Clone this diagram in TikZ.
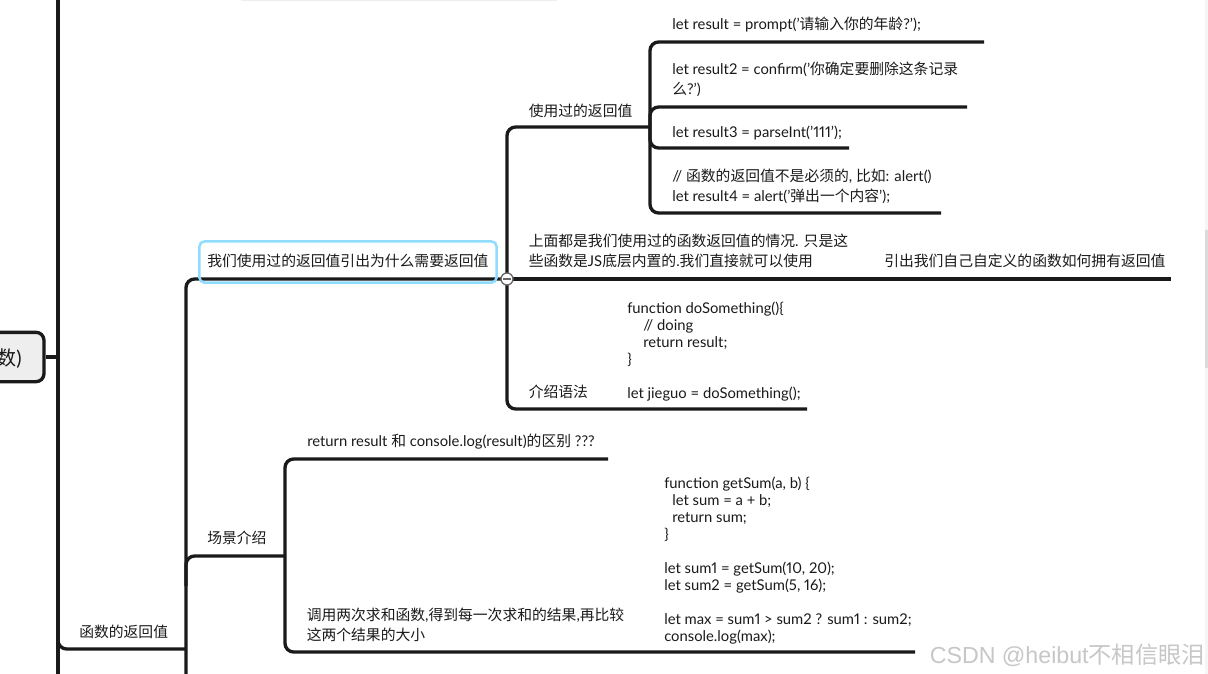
\documentclass[tikz,border=0pt]{standalone}
\usepackage{fontspec}
\setmainfont{Lato}[Numbers=Proportional]
\newfontfamily\cjk{Noto Sans CJK SC}
\newfontfamily\markfont{Liberation Sans}
\newcommand{\zh}[1]{{\cjk #1}}
\definecolor{inkline}{HTML}{1A1A1A}
\definecolor{selblue}{HTML}{90DCFF}
\definecolor{rootfill}{HTML}{EEEEEE}
\tikzset{
	branch/.style={draw=inkline, line width=2.5pt, rounded corners=6.5pt},
	topic/.style={anchor=west, inner sep=0pt, align=left, text=inkline, font=\fontsize{11.1}{15}\selectfont},
	code/.style={anchor=west, inner sep=0pt, align=left, text=inkline, font=\fontsize{11.1}{12.75}\selectfont},
}
\begin{document}
\begin{tikzpicture}[x=0.75pt, y=-0.75pt]
		\clip (0,0) rectangle (1208,674);
		\fill[white] (0,0) rectangle (1208,674);
		% scrollbar and the strip on top
		\fill[black!4] (1205,0) rectangle (1208,674);
		\fill[black!14] (1205,230) rectangle (1208,368);
		\fill[black!7] (241,0) rectangle (557,1);

		\coordinate (trunkTop) at (58,0);
		\coordinate (trunkBot) at (58,674);
		\coordinate (valueTop) at (186,279);
		\coordinate (valueBot) at (186,674);
		\coordinate (whyEnd) at (507,279);
		\coordinate (sceneEnd) at (285,556);
		\coordinate (usedEnd) at (650,127);

		\draw[branch] (trunkTop) -- (trunkBot);
		\draw[branch] (58,632) |- (valueBot |- 0,649);
		\draw[branch] (whyEnd) -| (valueBot);
		\draw[branch] (valueBot |- sceneEnd) ++(0,30) |- (sceneEnd);

		% selected topic
		\node[topic] (whyText) at (207,260.5) {\zh{我们使用过的返回值引出为什么需要返回值}};
		\node[draw=selblue, line width=1.9pt, rounded corners=4pt, minimum width=223pt, minimum height=31pt, inner sep=0pt] (whyBox) at (348,262) {};

		% used return values
		\draw[branch] (whyEnd) |- (usedEnd);
		\node[topic] (usedText) at (528.5,110.5) {\zh{使用过的返回值}};
		\coordinate (oneEnd) at (984,42);
		\coordinate (twoEnd) at (967,107);
		\coordinate (threeEnd) at (849,148);
		\coordinate (fourEnd) at (941,213);
		\draw[branch] (usedEnd) |- (oneEnd);
		\draw[branch] (usedEnd) |- (twoEnd);
		\draw[branch] (usedEnd) |- (threeEnd);
		\draw[branch] (usedEnd) |- (fourEnd);
		\node[topic] (oneText) at (672,25) {let result = prompt('\zh{请输入你的年龄}?');};
		\node[topic] (twoText) at (672,79.5) {let result2 = confirm('\zh{你确定要删除这条记录}\\\zh{么}?')};
		\node[topic] (threeText) at (672,133) {let result3 = parseInt('111');};
		\node[topic] (fourText) at (672,186.5) {// \zh{函数的返回值不是必须的}, \zh{比如}: alert()\\let result4 = alert('\zh{弹出一个内容}');};

		% the plain note
		\coordinate (noteEnd) at (1171,279);
		\draw[branch] (whyEnd) -- (noteEnd);
		\node[topic] (noteText) at (528.5,250.5) {\zh{上面都是我们使用过的函数返回值的情况}. \zh{只是这}\\\zh{些函数是}JS\zh{底层内置的}.\zh{我们直接就可以使用}};
		\node[topic] (ownText) at (884,260.5) {\zh{引出我们自己自定义的函数如何拥有返回值}};

		% syntax
		\coordinate (syntaxEnd) at (807,409);
		\draw[branch] (whyEnd) |- (syntaxEnd);
		\node[topic] (syntaxText) at (528.5,391.5) {\zh{介绍语法}};
		\node[code] (syntaxCode) at (627,352) {function doSomething()\{\\\hspace*{12pt}// doing\\\hspace*{12pt}return result;\\\}\\[12.75pt]let jieguo = doSomething();};

		\filldraw[fill=white, draw=black!60, line width=1pt] (whyEnd) circle (6);
		\node[fill=black!60, minimum width=6.5pt, minimum height=1.1pt, inner sep=0pt] (foldMark) at (whyEnd) {};

		% scenes
		\node[topic] (sceneText) at (207,537.5) {\zh{场景介绍}};
		\coordinate (diffEnd) at (608,459);
		\coordinate (sumEnd) at (915,652);
		\draw[branch] (sceneEnd) |- (diffEnd);
		\draw[branch] (sceneEnd) |- (sumEnd);
		\node[topic] (diffText) at (307,441.5) {return result \zh{和} console.log(result)\zh{的区别} ???};
		\node[topic] (sumText) at (306.5,624.5) {\zh{调用两次求和函数},\zh{得到每一次求和的结果},\zh{再比较}\\\zh{这两个结果的大小}};
		\node[code] (sumCode) at (664,560.5) {function getSum(a, b) \{\\\hspace*{6pt}let sum = a + b;\\\hspace*{6pt}return sum;\\\}\\[12.75pt]let sum1 = getSum(10, 20);\\let sum2 = getSum(5, 16);\\[12.75pt]let max = sum1 > sum2 ? sum1 : sum2;\\console.log(max);};

		\node[topic] (valueText) at (79,631.5) {\zh{函数的返回值}};

		% root, cut off by the left edge
		\node[draw=inkline, fill=rootfill, line width=2.5pt, rounded corners=6pt, minimum width=60pt, minimum height=37pt, inner sep=0pt] (rootBox) at (4,357) {};
		\node[anchor=east, inner sep=0pt, text=inkline, font=\fontsize{15}{17}\selectfont] (rootText) at (22,359) {\zh{数})};
		\draw[branch] (rootBox.east) -- (rootBox.east -| trunkTop);

		\node[anchor=east, inner sep=0pt, text=black!22, font=\fontsize{17.4}{20}\selectfont] (markText) at (1205,655) {\markfont CSDN @heibut\zh{不相信眼泪}};
	\end{tikzpicture}
\end{document}
